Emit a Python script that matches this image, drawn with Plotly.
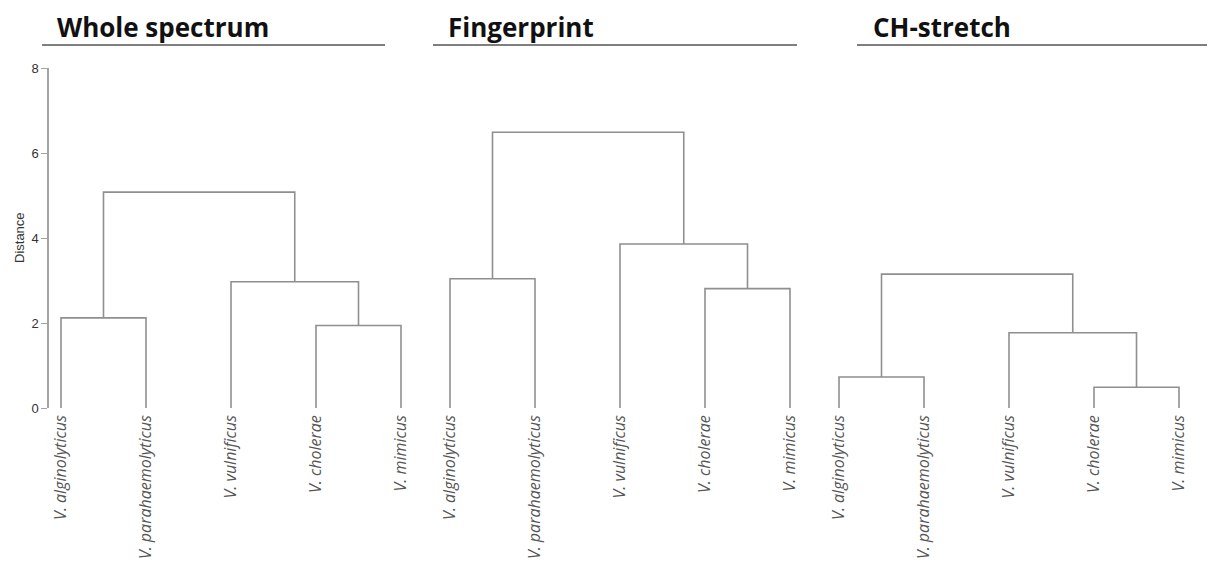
import plotly.graph_objects as go

# ---- data -------------------------------------------------------------
leaf_labels = ["V. alginolyticus", "V. parahaemolyticus", "V. vulnificus",
               "V. cholerae", "V. mimicus"]
panel_titles = ["Whole spectrum", "Fingerprint", "CH-stretch"]

# merge heights for each dendrogram:
# [alginolyticus+parahaemolyticus, cholerae+mimicus,
#  vulnificus+(cholerae,mimicus), root]
whole_spectrum = [2.12, 1.94, 2.97, 5.08]
fingerprint = [3.04, 2.81, 3.86, 6.49]
ch_stretch = [0.73, 0.49, 1.77, 3.15]

y_ticks = [0, 2, 4, 6, 8]

# ---- layout constants (pixels) ----------------------------------------
W, H = 1209, 562
M_L, M_T, M_B = 48, 68, 154
PLOT_W = W - M_L
PLOT_H = H - M_T - M_B
LEAF_STEP = 85
PANEL_FIRST_LEAF = [61, 450, 839]
PAD = 0.15

LINE_COLOR = "#8f8f8f"
AXIS_COLOR = "#a3a3a3"


def px_x(px):
    return (px - M_L) / PLOT_W


def px_y(py):
    return (H - M_B - py) / PLOT_H


def dendro_path(h):
    """Build the elbow links of the fixed 5-leaf topology."""
    xa, ha = 0.5, h[0]          # alginolyticus + parahaemolyticus
    xb, hb = 3.5, h[1]          # cholerae + mimicus
    xc, hc = (2 + xb) / 2, h[2] # vulnificus + (cholerae, mimicus)
    hr = h[3]
    links = [
        (0, 0, 1, 0, ha),
        (3, 0, 4, 0, hb),
        (2, 0, xb, hb, hc),
        (xa, ha, xc, hc, hr),
    ]
    xs, ys = [], []
    for xl, yl, xr, yr, top in links:
        xs += [xl, xl, xr, xr, None]
        ys += [yl, top, top, yr, None]
    return xs, ys


fig = go.Figure()
series = [whole_spectrum, fingerprint, ch_stretch]
for i, heights in enumerate(series):
    xs, ys = dendro_path(heights)
    xname = "x" if i == 0 else f"x{i + 1}"
    fig.add_trace(go.Scatter(
        x=xs, y=ys, mode="lines", xaxis=xname, yaxis="y",
        line=dict(color=LINE_COLOR, width=1.6),
        hoverinfo="skip", showlegend=False,
    ))

    start = PANEL_FIRST_LEAF[i]
    d0 = px_x(start - PAD * LEAF_STEP)
    d1 = px_x(start + (4 + PAD) * LEAF_STEP)
    key = "xaxis" if i == 0 else f"xaxis{i + 1}"
    fig.layout[key] = dict(
        domain=[d0, d1], range=[-PAD, 4 + PAD], anchor="y",
        tickmode="array", tickvals=list(range(len(leaf_labels))),
        ticktext=[f"<i>{t}</i>" for t in leaf_labels],
        tickangle=-90, ticks="", showline=False, showgrid=False,
        zeroline=False, ticklabelstandoff=3,
        tickfont=dict(family="Open Sans", size=16, color="#555555"),
    )

    # panel heading with its rule
    title_left = [57, 448, 873][i]
    rule = [(42, 385), (433, 797), (857, 1207)][i]
    fig.add_annotation(
        text=f"<b>{panel_titles[i]}</b>", xref="paper", yref="paper",
        x=px_x(title_left - 2), y=px_y(27), xanchor="left", yanchor="middle",
        showarrow=False,
        font=dict(family="Open Sans", size=26, color="#111111"),
    )
    fig.add_shape(type="line", xref="paper", yref="paper",
                  x0=px_x(rule[0]), x1=px_x(rule[1]),
                  y0=px_y(45), y1=px_y(45),
                  line=dict(color="#555555", width=1.5))

fig.add_annotation(
    text="Distance", xref="paper", yref="paper",
    x=px_x(19), y=px_y(238), textangle=-90,
    xanchor="center", yanchor="middle", showarrow=False,
    font=dict(family="Liberation Sans", size=13, color="#333333"),
)

fig.update_layout(
    width=W, height=H,
    margin=dict(l=M_L, r=0, t=M_T, b=M_B, pad=0),
    paper_bgcolor="white", plot_bgcolor="white",
    yaxis=dict(
        range=[0, 8], anchor="free", position=0,
        tickvals=y_ticks, ticks="outside", ticklen=6,
        tickcolor=AXIS_COLOR, tickwidth=1.3,
        showline=True, linecolor=AXIS_COLOR, linewidth=1.5,
        showgrid=False, zeroline=False,
        tickfont=dict(family="Liberation Sans", size=13, color="#333333"),
    ),
)

fig.write_html("out.html")
